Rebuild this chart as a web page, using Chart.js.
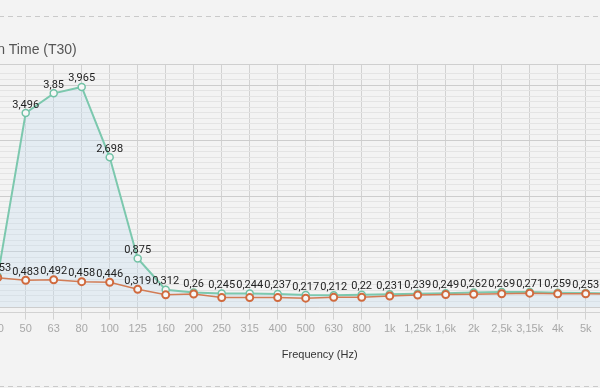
<!DOCTYPE html>
<html><head><meta charset="utf-8">
<script src="https://cdn.jsdelivr.net/npm/chart.js@4.4.0/dist/chart.umd.min.js"></script>
<style>
html,body{margin:0;padding:0;background:#f3f3f3;overflow:hidden;width:600px;height:388px;}
#wrap{position:absolute;left:-100px;top:0;width:800px;height:388px;}
</style></head><body>
<div id="wrap"><canvas id="c" width="800" height="388"></canvas></div>
<script>
const categories = ["40","50","63","80","100","125","160","200","250","315","400","500","630","800","1k","1,25k","1,6k","2k","2,5k","3,15k","4k","5k","6,3k","8k"];
const seriesTeal = [0.553,3.496,3.85,3.965,2.698,0.875,0.312,0.26,0.245,0.244,0.237,0.217,0.212,0.22,0.231,0.239,0.249,0.262,0.269,0.271,0.259,0.253,0.245,0.23];
const seriesOrange = [0.53,0.483,0.492,0.458,0.446,0.319,0.22,0.235,0.17,0.17,0.17,0.16,0.175,0.175,0.2,0.215,0.225,0.23,0.24,0.25,0.24,0.24,0.235,0.22];
const yMin = -0.1, yMax = 4.37, yStep = 0.1;

const FONT = '"Liberation Sans", Arial, Helvetica, sans-serif';
const LABEL_FONT = '11px Roboto, "Liberation Sans", Arial, sans-serif';
const fmt = v => String(v).replace('.', ',');

const decor = {
  id: 'decor',
  beforeDraw(chart) {
    const ctx = chart.ctx;
    ctx.save();
    ctx.strokeStyle = '#cacaca';
    ctx.lineWidth = 1;
    ctx.setLineDash([5, 4]);
    [16.5, 386.5].forEach(y => {
      ctx.beginPath(); ctx.moveTo(0, y); ctx.lineTo(chart.width, y); ctx.stroke();
    });
    ctx.restore();
  },
  afterDatasetsDraw(chart) {
    const ctx = chart.ctx;
    const mT = chart.getDatasetMeta(0), mO = chart.getDatasetMeta(1);
    ctx.save();
    ctx.font = LABEL_FONT;
    ctx.fillStyle = '#222';
    ctx.textAlign = 'center';
    ctx.textBaseline = 'alphabetic';
    mT.data.forEach((p, i) => {
      ctx.fillText(fmt(seriesTeal[i]), p.x, p.y - 5.5);
      const q = mO.data[i];
      if (q.y - p.y > 13) ctx.fillText(fmt(seriesOrange[i]), q.x, q.y - 5.5);
    });
    ctx.restore();
  }
};

new Chart(document.getElementById('c'), {
  type: 'line',
  data: {
    labels: categories,
    datasets: [
      { label: 'T30 A', data: seriesTeal, borderColor: '#7cc8ae', backgroundColor: 'rgba(195,222,238,0.32)',
        fill: 'origin', borderWidth: 2, pointRadius: 3.5, pointBorderWidth: 1.5,
        pointBackgroundColor: '#f7f7f7', pointBorderColor: '#72c2a6', tension: 0, order: 1 },
      { label: 'T30 B', data: seriesOrange, borderColor: '#d27c55', borderWidth: 1.5, pointRadius: 3.5,
        pointBorderWidth: 2, pointBackgroundColor: '#f7f7f7', pointBorderColor: '#d06a3e',
        fill: false, tension: 0, order: 0 }
    ]
  },
  options: {
    responsive: false, animation: false, devicePixelRatio: 1,
    layout: { padding: { left: 17, right: 58.3, top: 0, bottom: 0 } },
    plugins: {
      legend: { display: false }, tooltip: { enabled: false },
      title: { display: true, text: 'Reverberation Time (T30)', align: 'start', color: '#555',
        font: { family: FONT, size: 14, weight: 'normal' }, padding: { top: 41.6, bottom: 6.1 } }
    },
    scales: {
      x: {
        grid: { color: '#d2d2d2', lineWidth: 1, tickLength: 7 },
        border: { color: '#d2d2d2' },
        ticks: { color: '#a8a8a8', font: { family: FONT, size: 11 }, autoSkip: false, maxRotation: 0, padding: 3 },
        title: { display: true, text: 'Frequency (Hz)', color: '#333', font: { family: FONT, size: 11 }, padding: { top: 0, bottom: 26.9 } },
        afterFit(s) { s.height = 75.4; }
      },
      y: {
        min: yMin, max: yMax,
        ticks: { display: false, stepSize: yStep },
        grid: { drawTicks: false, lineWidth: 1,
          color: c => {
            const v = c.tick ? c.tick.value : 0;
            if (Math.abs(v - yMax) < 1e-6) return '#cfcfcf';
            if (Math.abs(v - Math.round(v)) < 1e-6) return '#cdcdcd';
            return '#e4e4e4';
          } },
        border: { display: false },
        afterFit(s) { s.width = 80.7; }
      }
    }
  },
  plugins: [decor]
});
</script>
</body></html>
